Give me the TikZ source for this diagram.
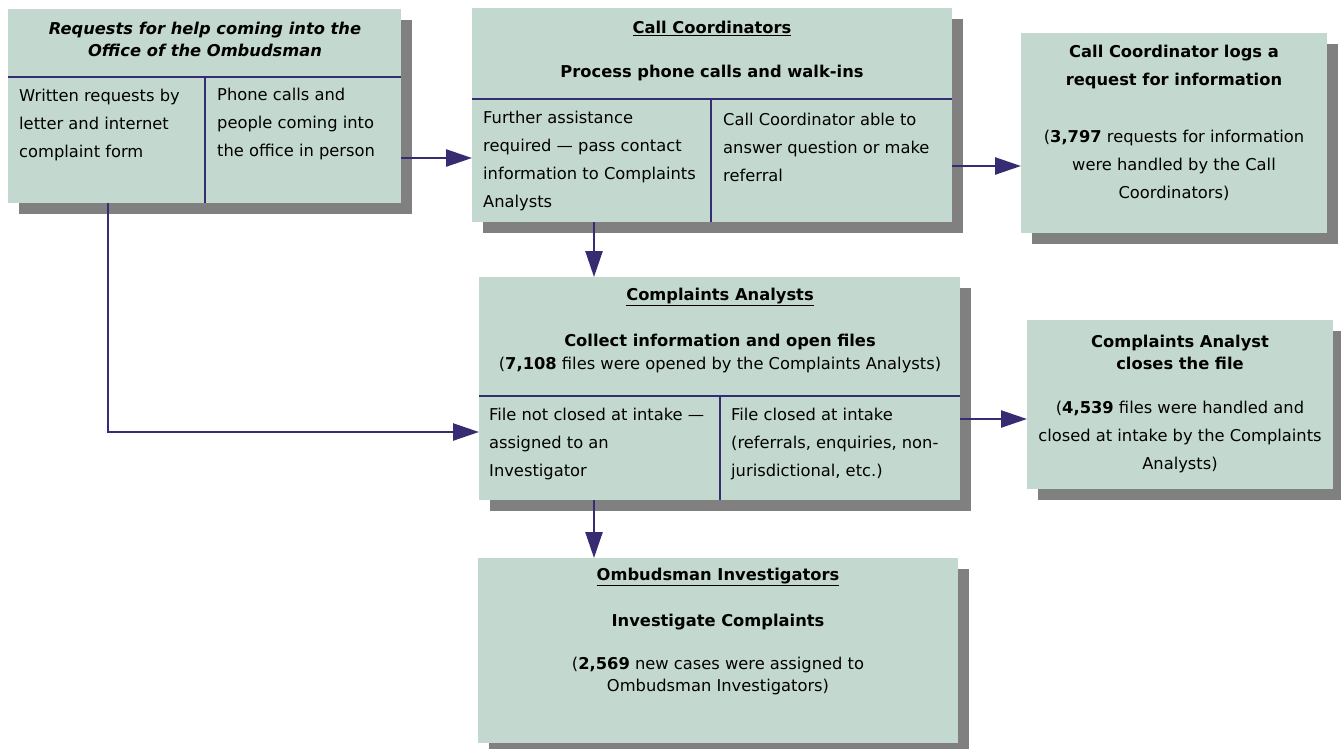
\documentclass[tikz,border=0pt]{standalone}
\usepackage{fontspec}
\setmainfont{DejaVu Sans}
\usepackage{tikz}
\usetikzlibrary{arrows.meta, shadows, positioning}
\definecolor{customTeal}{HTML}{C3D9CF}
\definecolor{customNavy}{HTML}{352C72}
\definecolor{customGrey}{HTML}{808080}

\begin{document}
\begin{tikzpicture} [
    x=1pt, y=-1pt,
    box/.style={rectangle, fill=customTeal, inner sep=0pt, outer sep=0pt, anchor=north west,
        drop shadow={shadow xshift=11pt, shadow yshift=-11pt, fill=customGrey, opacity=1}},
    label/.style={inner sep=0pt, align=center, font=\fontsize{16.3}{28}\selectfont},
    tightLabel/.style={inner sep=0pt, align=center, font=\fontsize{16.3}{21.5}\selectfont},
    colText/.style={inner sep=0pt, align=left, anchor=west, font=\fontsize{16.3}{28}\selectfont},
    divider/.style={line width=2.5pt, customNavy},
    arrow/.style={line width=2.5pt, customNavy, -{Triangle[length=26pt, width=17pt]}}
]
    \useasboundingbox (0, 0) rectangle (1341, 748);

    % 1 requests
    \node[box, minimum width=393pt, minimum height=194pt] (req) at (8, 9) {};
    \draw[divider] ([yshift=-68pt]req.north west) -- ([yshift=-68pt]req.north east);
    \draw[divider] ([shift={(197pt,-68pt)}]req.north west) -- ([xshift=197pt]req.south west);
    \node[tightLabel] (reqTitle) at (205, 39.5) {\bfseries\itshape Requests for help coming into the\\\bfseries\itshape Office of the Ombudsman};
    \node[colText] (reqWritten) at (19, 125) {Written requests by\\letter and internet\\complaint form};
    \node[colText] (reqPhone) at (217, 124) {Phone calls and\\people coming into\\the office in person};

    % 2 call coordinators
    \node[box, minimum width=480pt, minimum height=214pt] (cc) at (472, 8) {};
    \draw[divider] ([yshift=-91pt]cc.north west) -- ([yshift=-91pt]cc.north east);
    \draw[divider] ([shift={(239pt,-91pt)}]cc.north west) -- ([xshift=239pt]cc.south west);
    \node[label] (ccTitle) at (712, 28) {\bfseries\underline{Call Coordinators}};
    \node[label] (ccTask) at (712, 73) {\bfseries Process phone calls and walk-ins};
    \node[colText] (ccPass) at (483, 160.5) {Further assistance\\required --- pass contact\\information to Complaints\\Analysts};
    \node[colText] (ccAnswer) at (723, 147) {Call Coordinator able to\\answer question or make\\referral};

    % 3 request for information
    \node[box, minimum width=306pt, minimum height=200pt] (log) at (1021, 33) {};
    \node[label] (logTitle) at (1174, 67) {\bfseries Call Coordinator logs a\\\bfseries request for information};
    \node[label] (logCount) at (1174, 165.5) {(\textbf{3,797} requests for information\\were handled by the Call\\Coordinators)};

    % 4 complaints analysts
    \node[box, minimum width=481pt, minimum height=223pt] (ca) at (479, 277) {};
    \draw[divider] ([yshift=-119pt]ca.north west) -- ([yshift=-119pt]ca.north east);
    \draw[divider] ([shift={(241pt,-119pt)}]ca.north west) -- ([xshift=241pt]ca.south west);
    \node[label] (caTitle) at (720, 297) {\bfseries\underline{Complaints Analysts}};
    \node[label] (caTask) at (720, 342) {\bfseries Collect information and open files};
    \node[label] (caCount) at (720, 365) {(\textbf{7,108} files were opened by the Complaints Analysts)};
    \node[colText] (caOpen) at (489, 444) {File not closed at intake ---\\assigned to an\\Investigator};
    \node[colText] (caClosed) at (731, 444) {File closed at intake\\(referrals, enquiries, non-\\jurisdictional, etc.)};

    % 5 file closed
    \node[box, minimum width=306pt, minimum height=169pt] (close) at (1027, 320) {};
    \node[tightLabel] (closeTitle) at (1180, 352.5) {\bfseries Complaints Analyst\\\bfseries closes the file};
    \node[label] (closeCount) at (1180, 437) {(\textbf{4,539} files were handled and\\closed at intake by the Complaints\\Analysts)};

    % 6 investigators
    \node[box, minimum width=480pt, minimum height=185pt] (inv) at (478, 558) {};
    \node[label] (invTitle) at (718, 577) {\bfseries\underline{Ombudsman Investigators}};
    \node[label] (invTask) at (718, 622) {\bfseries Investigate Complaints};
    \node[tightLabel] (invCount) at (718, 676) {(\textbf{2,569} new cases were assigned to\\Ombudsman Investigators)};

    % arrows
    \coordinate (reqDrop) at (108, 0);
    \coordinate (midCol) at (594, 0);
    \draw [arrow] ([yshift=-52pt]req.east) -- ([yshift=-52pt]req.east -| cc.west);
    \draw [arrow] ([yshift=-51pt]cc.east) -- ([yshift=-51pt]cc.east -| log.west);
    \draw [arrow] (midCol |- cc.south) -- (midCol |- ca.north);
    \draw [arrow] (midCol |- ca.south) -- (midCol |- inv.north);
    \draw [arrow] ([yshift=-30.5pt]ca.east) -- ([yshift=-30.5pt]ca.east -| close.west);
    \draw [arrow] (reqDrop |- req.south) |- ([yshift=-43.5pt]ca.west);

\end{tikzpicture}
\end{document}
